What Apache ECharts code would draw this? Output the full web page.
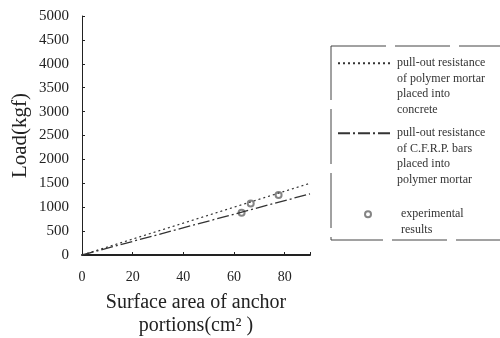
<!DOCTYPE html>
<html>
<head>
<meta charset="utf-8">
<script src="https://cdn.jsdelivr.net/npm/echarts@6/dist/echarts.min.js"></script>
<style>
  html, body { margin: 0; padding: 0; background: #fff; }
  #chart { width: 500px; height: 338px; }
</style>
</head>
<body>
<div id="chart"></div>
<script>
const seriesNames = [
  'pull-out resistance\nof polymer mortar\nplaced into\nconcrete',
  'pull-out resistance\nof C.F.R.P. bars\nplaced into\npolymer mortar',
  'experimental\nresults',
]
// endpoints of the two theoretical lines (area cm², load kgf)
const mortarLine = [[0, 0], [90, 1500]]
const cfrpLine = [[0, 0], [90, 1280]]
const experimental = [[63, 884], [66.6, 1080], [77.6, 1255]]
const xTicks = [0, 20, 40, 60, 80]

const font = '"Liberation Serif", "DejaVu Serif", serif'
const ink = '#222'

const chart = echarts.init(document.getElementById('chart'))

// legend text: blank lines in front so the icon sits beside the first line
const legendFormatter = (name) => {
  const n = name.split('\n').length
  return '\n'.repeat(n - 1) + name
}
const legendText = {
  fontFamily: font,
  fontSize: 12,
  color: '#333',
  lineHeight: 15.5,
}

chart.setOption({
  animation: false,
  textStyle: { fontFamily: font },
  grid: { left: 82, right: 190, top: 16, bottom: 83, outerBoundsMode: 'none' },
  xAxis: {
    type: 'value',
    min: 0,
    max: 90,
    interval: 20,
    name: 'Surface area of anchor\nportions(cm\u00b2 )',
    nameLocation: 'middle',
    nameGap: 36,
    nameTextStyle: { fontFamily: font, fontSize: 20, color: ink, lineHeight: 23 },
    axisLine: { lineStyle: { color: ink, width: 2 } },
    axisTick: { inside: true, length: 3, lineStyle: { color: ink } },
    axisLabel: {
      color: ink,
      fontFamily: font,
      fontSize: 14,
      margin: 15,
      formatter: (v) => (xTicks.includes(v) ? String(v) : ''),
    },
    splitLine: { show: false },
  },
  yAxis: {
    type: 'value',
    min: 0,
    max: 5000,
    interval: 500,
    name: 'Load(kgf)',
    nameLocation: 'middle',
    nameGap: 51,
    nameTextStyle: { fontFamily: font, fontSize: 21, color: ink },
    axisLine: { lineStyle: { color: ink, width: 1 } },
    axisTick: { inside: true, length: 3, lineStyle: { color: ink } },
    axisLabel: { color: ink, fontFamily: font, fontSize: 15, margin: 13, formatter: (v) => String(v) },
    splitLine: { show: false },
  },
  legend: [
    {
      data: [seriesNames[0]],
      orient: 'vertical',
      left: 337,
      top: 9,
      padding: 0,
      itemWidth: 54,
      itemHeight: 10,
      itemStyle: { opacity: 0 },
      formatter: legendFormatter,
      textStyle: legendText,
    },
    {
      data: [seriesNames[1]],
      orient: 'vertical',
      left: 337,
      top: 79,
      padding: 0,
      itemWidth: 54,
      itemHeight: 10,
      itemStyle: { opacity: 0 },
      formatter: legendFormatter,
      textStyle: legendText,
    },
    {
      data: [seriesNames[2]],
      orient: 'vertical',
      left: 364,
      top: 191,
      padding: 0,
      itemWidth: 56,
      itemHeight: 6,
      formatter: legendFormatter,
      textStyle: legendText,
    },
  ],
  graphic: [
    {
      type: 'rect',
      shape: { x: 331, y: 46, width: 185, height: 194 },
      style: { fill: 'none', stroke: '#444', lineWidth: 1, lineDash: [55, 9] },
      silent: true,
    },
  ],
  series: [
    {
      name: seriesNames[0],
      type: 'line',
      data: mortarLine,
      symbol: 'none',
      lineStyle: { color: '#333', width: 1.3, type: [2, 3] },
      itemStyle: { color: '#333' },
    },
    {
      name: seriesNames[1],
      type: 'line',
      data: cfrpLine,
      symbol: 'none',
      lineStyle: { color: '#333', width: 1.3, type: [12, 3, 2, 3] },
      itemStyle: { color: '#333' },
    },
    {
      name: seriesNames[2],
      type: 'scatter',
      data: experimental,
      symbol: 'emptyCircle',
      symbolSize: 6,
      itemStyle: { color: '#666', borderWidth: 1 },
    },
  ],
})
</script>
</body>
</html>
